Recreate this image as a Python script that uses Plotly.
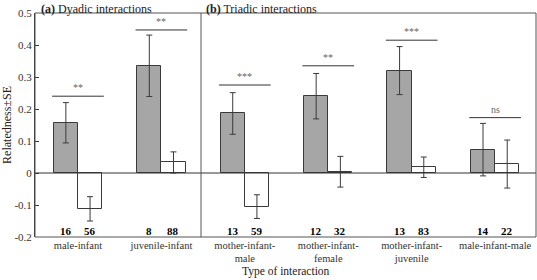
import plotly.graph_objects as go

categories = ["male-infant", "juvenile-infant", "mother-infant-<br>male",
              "mother-infant-<br>female", "mother-infant-<br>juvenile", "male-infant-male"]
related_vals = [0.157, 0.335, 0.186, 0.240, 0.320, 0.073]
related_se = [0.063, 0.096, 0.065, 0.071, 0.075, 0.082]
unrelated_vals = [-0.112, 0.033, -0.105, 0.004, 0.018, 0.028]
unrelated_se = [0.038, 0.033, 0.037, 0.048, 0.032, 0.075]
n_related = ["16", "8", "13", "12", "13", "14"]
n_unrelated = ["56", "88", "59", "32", "83", "22"]
sig_labels = ["**", "**", "***", "**", "***", "ns"]
sig_heights = [0.24, 0.447, 0.275, 0.335, 0.415, 0.173]
y_ticks = [-0.2, -0.1, 0, 0.1, 0.2, 0.3, 0.4, 0.5]
y_ticktext = ["-0.2", "-0.1", "0", "0.1", "0.2", "0.3", "0.4", "0.5"]

FONT = "Liberation Serif"
off = 0.145
bw = 0.29
xs = list(range(len(categories)))

fig = go.Figure()
fig.add_trace(go.Bar(
    x=[x - off for x in xs], y=related_vals, width=bw,
    marker=dict(color="#a6a6a6", line=dict(color="#3a3a3a", width=1)),
    error_y=dict(type="data", array=related_se, color="#3a3a3a", thickness=1, width=3),
    showlegend=False))
fig.add_trace(go.Bar(
    x=[x + off for x in xs], y=unrelated_vals, width=bw,
    marker=dict(color="white", line=dict(color="#3a3a3a", width=1)),
    error_y=dict(type="data", array=unrelated_se, color="#3a3a3a", thickness=1, width=3),
    showlegend=False))

shapes = []
annotations = []
for i, x in enumerate(xs):
    shapes.append(dict(type="line", xref="x", yref="y", x0=x - 0.31, x1=x + 0.31,
                       y0=sig_heights[i], y1=sig_heights[i], line=dict(color="#333", width=1)))
    annotations.append(dict(x=x, y=sig_heights[i], xref="x", yref="y", text=sig_labels[i],
                            showarrow=False, yanchor="bottom", yshift=1,
                            font=dict(family=FONT, size=10, color="#666666")))
    annotations.append(dict(x=x - off, y=-0.18, xref="x", yref="y", text="<b>" + n_related[i] + "</b>",
                            showarrow=False, font=dict(family=FONT, size=11, color="black")))
    annotations.append(dict(x=x + off, y=-0.18, xref="x", yref="y", text="<b>" + n_unrelated[i] + "</b>",
                            showarrow=False, font=dict(family=FONT, size=11, color="black")))

# zero line
shapes.append(dict(type="line", xref="paper", yref="y", x0=0, x1=1, y0=0, y1=0,
                   line=dict(color="#333", width=1)))
# divider
shapes.append(dict(type="line", xref="x", yref="paper", x0=1.475, x1=1.475, y0=0, y1=1,
                   line=dict(color="#555", width=1)))
# frame
shapes.append(dict(type="rect", xref="paper", yref="paper", x0=0, x1=1, y0=0, y1=1,
                   line=dict(color="#555", width=1)))

annotations.append(dict(x=0.007, y=1, xref="paper", yref="paper", yanchor="top", xanchor="left",
                        text="<b>(a)</b> Dyadic interactions", showarrow=False, yshift=13,
                        font=dict(family=FONT, size=12, color="#222")))
annotations.append(dict(x=1.475, y=1, xref="x", yref="paper", yanchor="top", xanchor="left",
                        text="<b>(b)</b> Triadic interactions", showarrow=False, xshift=3, yshift=13,
                        font=dict(family=FONT, size=12, color="#222")))
annotations.append(dict(x=0.5, y=0, xref="paper", yref="paper", yanchor="bottom", xanchor="center",
                        text="Type of interaction", showarrow=False, yshift=-43,
                        font=dict(family=FONT, size=11.5, color="#222")))

fig.update_layout(
    width=537, height=280,
    margin=dict(l=35, r=1, t=13, b=43),
    paper_bgcolor="white", plot_bgcolor="white",
    font=dict(family=FONT, size=11, color="#222"),
    shapes=shapes, annotations=annotations,
    bargap=0,
)
fig.update_xaxes(range=[-0.515, 5.49], tickvals=xs, ticktext=categories, showgrid=False,
                 zeroline=False, showline=False, ticks="", ticklen=0,
                 automargin=False,
                 tickfont=dict(family=FONT, size=10.5, color="#333"))
fig.update_yaxes(range=[-0.2, 0.5], tickvals=y_ticks, ticktext=y_ticktext, showgrid=False,
                 zeroline=False, showline=True, linecolor="#333", linewidth=1,
                 ticks="inside", ticklen=4, tickcolor="#333", automargin=False,
                 title=dict(text="Relatedness±SE", font=dict(family=FONT, size=12), standoff=4),
                 tickfont=dict(family=FONT, size=11, color="#333"))

fig.write_html("out.html")
